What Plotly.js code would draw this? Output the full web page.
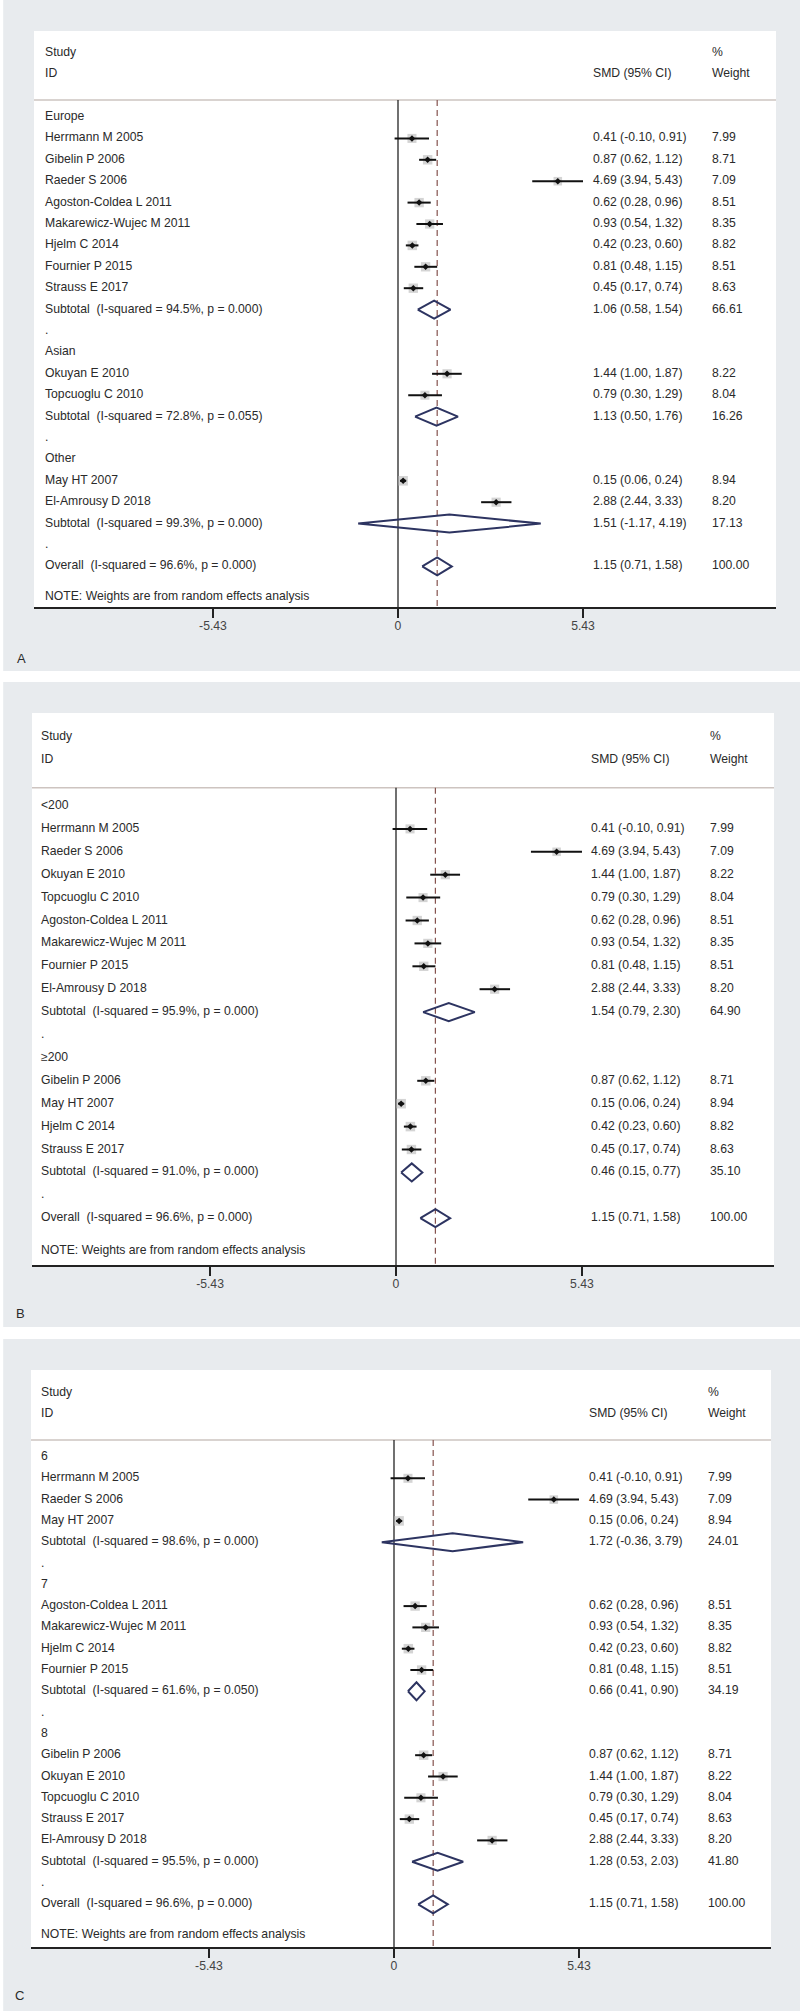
<!DOCTYPE html>
<html>
<head>
<meta charset="utf-8">
<script src="https://cdn.plot.ly/plotly-3.0.1.min.js"></script>
<style>
  body { margin: 0; background: #fff; }
  #chart { width: 800px; height: 2011px; }
</style>
</head>
<body>
<div id="chart"></div>
<script>
// study results (same in every panel)
const studies = ["Herrmann M 2005", "Gibelin P 2006", "Raeder S 2006", "Agoston-Coldea L 2011",
    "Makarewicz-Wujec M 2011", "Hjelm C 2014", "Fournier P 2015", "Strauss E 2017",
    "Okuyan E 2010", "Topcuoglu C 2010", "May HT 2007", "El-Amrousy D 2018"];
const smd = [0.41, 0.87, 4.69, 0.62, 0.93, 0.42, 0.81, 0.45, 1.44, 0.79, 0.15, 2.88];
const ciLow = [-0.10, 0.62, 3.94, 0.28, 0.54, 0.23, 0.48, 0.17, 1.00, 0.30, 0.06, 2.44];
const ciHigh = [0.91, 1.12, 5.43, 0.96, 1.32, 0.60, 1.15, 0.74, 1.87, 1.29, 0.24, 3.33];
const weight = [7.99, 8.71, 7.09, 8.51, 8.35, 8.82, 8.51, 8.63, 8.22, 8.04, 8.94, 8.20];

// panel A : region
const groupsA = ["Europe", "Asian", "Other"];
const membersA = [[0, 1, 2, 3, 4, 5, 6, 7], [8, 9], [10, 11]];
const subSmdA = [1.06, 1.13, 1.51];
const subLowA = [0.58, 0.50, -1.17];
const subHighA = [1.54, 1.76, 4.19];
const subWeightA = [66.61, 16.26, 17.13];
const subI2A = [94.5, 72.8, 99.3];
const subPA = [0.000, 0.055, 0.000];

// panel B : sample size
const groupsB = ["<200", "≥200"];
const membersB = [[0, 2, 8, 9, 3, 4, 6, 11], [1, 10, 5, 7]];
const subSmdB = [1.54, 0.46];
const subLowB = [0.79, 0.15];
const subHighB = [2.30, 0.77];
const subWeightB = [64.90, 35.10];
const subI2B = [95.9, 91.0];
const subPB = [0.000, 0.000];

// panel C : quality score
const groupsC = ["6", "7", "8"];
const membersC = [[0, 2, 10], [3, 4, 5, 6], [1, 8, 9, 7, 11]];
const subSmdC = [1.72, 0.66, 1.28];
const subLowC = [-0.36, 0.41, 0.53];
const subHighC = [3.79, 0.90, 2.03];
const subWeightC = [24.01, 34.19, 41.80];
const subI2C = [98.6, 61.6, 95.5];
const subPC = [0.000, 0.050, 0.000];

// overall (random effects)
const overallSmd = 1.15;
const overallLow = 0.71;
const overallHigh = 1.58;
const overallWeight = 100.00;
const overallI2 = 96.6;
const overallP = 0.000;

const tickVals = [-5.43, 0, 5.43];
const tickText = ["-5.43", "0", "5.43"];

// page geometry of each panel, in pixels
const frames = [
    { tag: "A", bgTop: 0, bgBottom: 671, boxL: 34, boxR: 776, boxTop: 31, axisY: 607,
      row0: 117, rowH: 21.4, zeroX: 398, ppu: 34.07, textX: 45, ciX: 593, wX: 712, tagX: 15, tagY: 658 },
    { tag: "B", bgTop: 682, bgBottom: 1327, boxL: 32, boxR: 774, boxTop: 713, axisY: 1265,
      row0: 806, rowH: 22.9, zeroX: 396, ppu: 34.25, textX: 41, ciX: 591, wX: 710, tagX: 14, tagY: 1313 },
    { tag: "C", bgTop: 1339, bgBottom: 2011, boxL: 31, boxR: 771, boxTop: 1370, axisY: 1947,
      row0: 1457, rowH: 21.3, zeroX: 394, ppu: 34.07, textX: 41, ciX: 589, wX: 708, tagX: 13, tagY: 1995 }
];
const panelData = [
    [groupsA, membersA, subSmdA, subLowA, subHighA, subWeightA, subI2A, subPA],
    [groupsB, membersB, subSmdB, subLowB, subHighB, subWeightB, subI2B, subPB],
    [groupsC, membersC, subSmdC, subLowC, subHighC, subWeightC, subI2C, subPC]
];

const H = 2011, W = 800;
const FONT = "Liberation Sans, Arial, sans-serif";
const TXT = "#2a2a2a";
const FS = 12.2;
const ci = (e, l, h) => `${e.toFixed(2)} (${l.toFixed(2)}, ${h.toFixed(2)})`;

const traces = [];
const layout = {
    width: W, height: H,
    margin: { l: 0, r: 0, t: 0, b: 0 },
    paper_bgcolor: "#ffffff",
    plot_bgcolor: "rgba(0,0,0,0)",
    showlegend: false,
    font: { family: FONT, size: FS, color: TXT },
    shapes: [],
    annotations: []
};

frames.forEach((f, p) => {
    const [groups, members, sSmd, sLow, sHigh, sW, sI2, sP] = panelData[p];
    const sfx = p === 0 ? "" : String(p + 1);
    const xa = "x" + sfx, ya = "y" + sfx;
    const toX = px => (px - f.zeroX) / f.ppu;
    const toRow = py => (py - f.row0) / f.rowH;
    const xMin = toX(f.boxL), xMax = toX(f.boxR);
    const bottomRow = toRow(f.axisY);
    const half = 9 / f.rowH;   // diamond half height

    // backgrounds
    layout.shapes.push({ type: "rect", xref: "paper", yref: "paper", layer: "below",
        x0: 0.004, x1: 1, y0: 1 - f.bgBottom / H, y1: 1 - f.bgTop / H,
        fillcolor: "#e8ebee", line: { width: 0 } });
    layout.shapes.push({ type: "rect", xref: "paper", yref: "paper", layer: "below",
        x0: f.boxL / W, x1: f.boxR / W, y0: 1 - f.axisY / H, y1: 1 - f.boxTop / H,
        fillcolor: "#ffffff", line: { width: 0 } });
    layout.annotations.push({ xref: "paper", yref: "paper", x: f.tagX / W, y: 1 - f.tagY / H,
        xanchor: "left", yanchor: "middle", showarrow: false, text: f.tag,
        font: { size: 13, color: TXT } });

    // rows: group label, studies, subtotal, "." ... then overall
    const labL = [], labR = [], ciT = [], ciR = [], wT = [], wR = [];
    const sx = [], sy = [], ss = [], lx = [], ly = [], dx = [], dy = [];
    let r = 0;
    groups.forEach((g, k) => {
        labL.push(g); labR.push(r); r++;
        members[k].forEach(i => {
            labL.push(studies[i]); labR.push(r);
            ciT.push(ci(smd[i], ciLow[i], ciHigh[i])); ciR.push(r);
            wT.push(weight[i].toFixed(2)); wR.push(r);
            sx.push(smd[i]); sy.push(r); ss.push(Math.sqrt(weight[i]) * 3.2);
            lx.push(ciLow[i], ciHigh[i], null); ly.push(r, r, null);
            r++;
        });
        labL.push(`Subtotal  (I-squared = ${sI2[k].toFixed(1)}%, p = ${sP[k].toFixed(3)})`); labR.push(r);
        ciT.push(ci(sSmd[k], sLow[k], sHigh[k])); ciR.push(r);
        wT.push(sW[k].toFixed(2)); wR.push(r);
        dx.push(sLow[k], sSmd[k], sHigh[k], sSmd[k], sLow[k], null);
        dy.push(r, r - half, r, r + half, r, null);
        r++;
        labL.push("."); labR.push(r); r++;
    });
    labL.push(`Overall  (I-squared = ${overallI2.toFixed(1)}%, p = ${overallP.toFixed(3)})`); labR.push(r);
    ciT.push(ci(overallSmd, overallLow, overallHigh)); ciR.push(r);
    wT.push(overallWeight.toFixed(2)); wR.push(r);
    dx.push(overallLow, overallSmd, overallHigh, overallSmd, overallLow, null);
    dy.push(r, r - half, r, r + half, r, null);
    labL.push("NOTE: Weights are from random effects analysis"); labR.push(r + 1.45);

    // header
    labL.push("Study", "ID"); labR.push(-3, -2);
    ciT.push("SMD (95% CI)"); ciR.push(-2);
    wT.push("%", "Weight"); wR.push(-3, -2);

    const base = { xaxis: xa, yaxis: ya, hoverinfo: "skip", cliponaxis: false };
    // header rule, zero line, overall dashed line
    traces.push({ ...base, type: "scatter", mode: "lines", x: [xMin, xMax], y: [-0.8, -0.8],
        line: { color: "#cdc4c0", width: 1.5 } });
    traces.push({ ...base, type: "scatter", mode: "lines", x: [0, 0], y: [-0.8, bottomRow],
        line: { color: "#111", width: 1.2 } });
    traces.push({ ...base, type: "scatter", mode: "lines", x: [overallSmd, overallSmd], y: [-0.8, bottomRow],
        line: { color: "#85524e", width: 1.2, dash: "6px,4px" } });
    // weight boxes
    traces.push({ ...base, type: "scatter", mode: "markers", x: sx, y: sy,
        marker: { symbol: "square", size: ss, color: "#c2c2c2", line: { width: 0 } } });
    // confidence intervals
    traces.push({ ...base, type: "scatter", mode: "lines", x: lx, y: ly,
        line: { color: "#111", width: 2 } });
    // point estimates
    traces.push({ ...base, type: "scatter", mode: "markers", x: sx, y: sy,
        marker: { symbol: "diamond", size: 5, color: "#111" } });
    // pooled diamonds
    traces.push({ ...base, type: "scatter", mode: "lines", x: dx, y: dy,
        line: { color: "#2d3461", width: 2 } });
    // text columns
    traces.push({ ...base, type: "scatter", mode: "text", x: labR.map(() => toX(f.textX)), y: labR,
        text: labL, textposition: "middle right", textfont: { family: FONT, size: FS, color: TXT } });
    traces.push({ ...base, type: "scatter", mode: "text", x: ciR.map(() => toX(f.ciX)), y: ciR,
        text: ciT, textposition: "middle right", textfont: { family: FONT, size: FS, color: TXT } });
    traces.push({ ...base, type: "scatter", mode: "text", x: wR.map(() => toX(f.wX)), y: wR,
        text: wT, textposition: "middle right", textfont: { family: FONT, size: FS, color: TXT } });

    layout["xaxis" + sfx] = {
        domain: [f.boxL / W, f.boxR / W], range: [xMin, xMax], anchor: ya,
        showline: true, linecolor: "#222", linewidth: 2,
        ticks: "outside", ticklen: 9, tickwidth: 2, tickcolor: "#222",
        ticklabelstandoff: -3,
        tickvals: tickVals, ticktext: tickText,
        tickfont: { family: FONT, size: FS, color: "#444" },
        showgrid: false, zeroline: false, fixedrange: true
    };
    layout["yaxis" + sfx] = {
        domain: [1 - f.axisY / H, 1 - f.boxTop / H], range: [bottomRow, toRow(f.boxTop)], anchor: xa,
        showline: false, showticklabels: false, ticks: "", showgrid: false, zeroline: false, fixedrange: true
    };
});

Plotly.newPlot("chart", traces, layout, { staticPlot: true });
</script>
</body>
</html>
